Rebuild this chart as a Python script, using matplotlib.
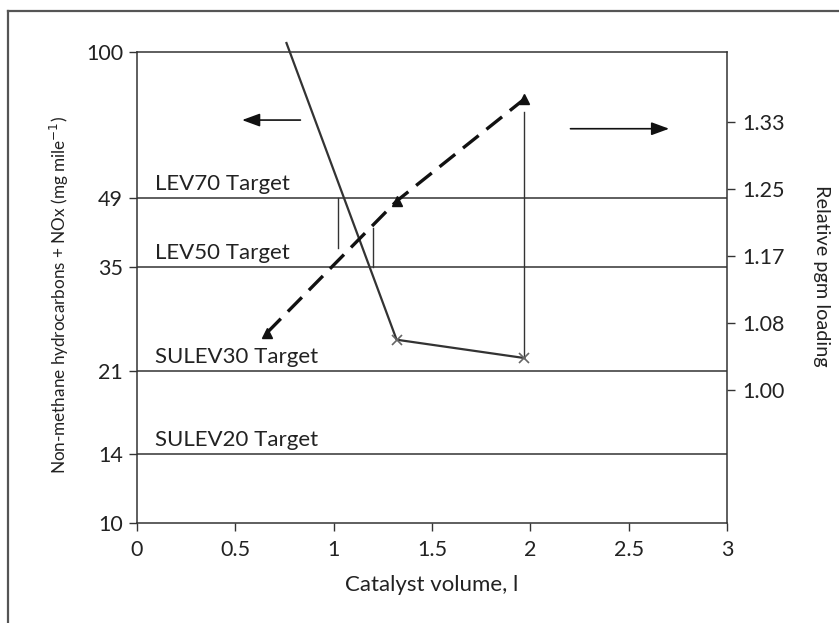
import numpy as np
import matplotlib
matplotlib.use('Agg')
import matplotlib.pyplot as plt
from matplotlib.lines import Line2D

plt.rcParams['font.family'] = ['Lato', 'DejaVu Sans']

# emissions curve (left axis, mg/mile)
vol_emis = [0.76, 1.32, 1.97]
emis = [104.5, 24.5, 22.4]

# pgm loading curve (right axis)
vol_pgm = [0.66, 1.32, 1.97]
pgm = [1.071, 1.235, 1.362]

targets = [49, 35, 21, 14]
target_names = ['LEV70 Target', 'LEV50 Target', 'SULEV30 Target', 'SULEV20 Target']

left_ticks = [10, 14, 21, 35, 49, 100]
right_ticks = [1.0, 1.0833, 1.1667, 1.25, 1.3333]
right_labels = ['1.00', '1.08', '1.17', '1.25', '1.33']

# thin vertical markers (x, y_top, y_bottom) on the left axis
drops = [(1.02, 49, 38.4), (1.20, 42.3, 35), (1.97, 74.6, 22.4)]

ink = '#333333'
txt = '#222222'

fig = plt.figure(figsize=(8.39, 6.23), dpi=100)
ax = fig.add_axes([0.1633, 0.1605, 0.7032, 0.756])
ax.set_yscale('log')
ax.set_xlim(0, 3)
ax.set_ylim(10, 100)

for sp in ax.spines.values():
    sp.set_color(ink)
    sp.set_linewidth(1.1)

ax.set_xticks([0, 0.5, 1, 1.5, 2, 2.5, 3])
ax.set_xticklabels(['0', '0.5', '1', '1.5', '2', '2.5', '3'])
ax.set_yticks(left_ticks)
ax.set_yticklabels([str(t) for t in left_ticks])
ax.yaxis.set_minor_locator(matplotlib.ticker.NullLocator())
ax.tick_params(axis='both', labelsize=15.5, colors=ink, length=6, width=1, labelcolor=txt)
ax.tick_params(axis='x', pad=6)
ax.tick_params(axis='y', pad=4)
for t, v in zip(ax.yaxis.get_major_ticks(), left_ticks):
    if v != 10:
        t.tick1line.set_visible(False)

for val, name in zip(targets, target_names):
    ax.axhline(val, color=ink, lw=1.1)
    ax.text(0.09, val * 1.02, name, fontsize=16, color=txt, va='bottom', ha='left')

for x, y0, y1 in drops:
    ax.plot([x, x], [y0, y1], color=ink, lw=1.0)

ax.plot(vol_emis, emis, color=ink, lw=1.6, clip_on=False, zorder=5)
ax.plot(vol_emis[1:], emis[1:], ls='none', marker='x', ms=7, mew=1.2, color='#666666', zorder=6)

ax.annotate('', xy=(0.52, 71.7), xytext=(0.845, 71.7),
            arrowprops=dict(arrowstyle='-|>,head_length=0.6,head_width=0.22', color='#111111',
                            lw=1.2, mutation_scale=18))

ax.set_xlabel('Catalyst volume, l', fontsize=16, color=txt, labelpad=11)
ax.set_ylabel('Non-methane hydrocarbons + NOx (mg mile$^{-1}$)', fontsize=12.3, color=txt)
ax.yaxis.set_label_coords(-0.112, 0.484)

ax2 = ax.twinx()
ax2.set_ylim(0.8346, 1.4204)
ax2.set_yticks(right_ticks)
ax2.set_yticklabels(right_labels)
ax2.tick_params(axis='y', labelsize=15.5, colors=ink, length=6, width=1, labelcolor=txt, pad=5)
for sp in ax2.spines.values():
    sp.set_visible(False)

ax2.plot(vol_pgm, pgm, color='#111111', lw=2.4, ls=(0, (6, 3)), marker='^', ms=7, zorder=5)
ax2.annotate('', xy=(2.72, 1.325), xytext=(2.19, 1.325),
             arrowprops=dict(arrowstyle='-|>,head_length=0.6,head_width=0.22', color='#111111',
                             lw=1.2, mutation_scale=18))
ax2.set_ylabel('Relative pgm loading', fontsize=14.3, color=txt, rotation=-90)
ax2.yaxis.set_label_coords(1.175, 0.525)

# partial frame around the figure
fig.add_artist(Line2D([8 / 839, 8 / 839], [0, 1 - 11 / 623], color='#555555', lw=1.6))
fig.add_artist(Line2D([8 / 839, 1], [1 - 11 / 623, 1 - 11 / 623], color='#555555', lw=1.6))

fig.savefig('out.png', dpi=100, facecolor='white')
